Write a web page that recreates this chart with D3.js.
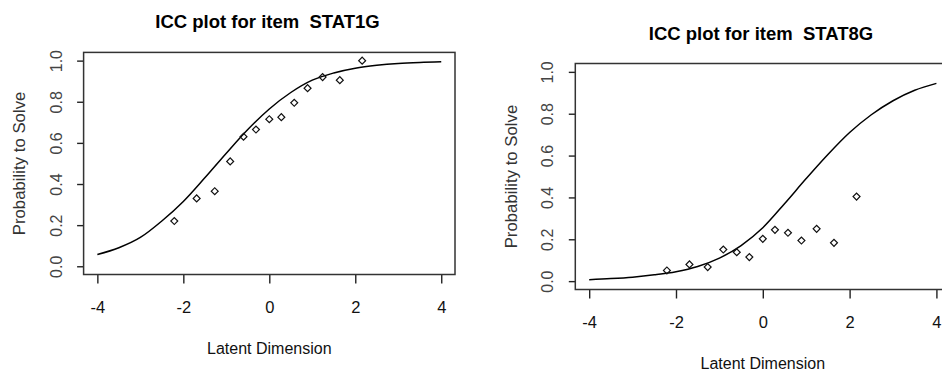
<!DOCTYPE html>
<html>
<head>
<meta charset="utf-8">
<script src="https://cdn.jsdelivr.net/npm/d3@7"></script>
<style>
  body { margin: 0; background: #fff; }
  svg { display: block; font-family: "Liberation Sans", Arial, sans-serif; }
  .title { font-weight: bold; font-size: 18.5px; white-space: pre; }
</style>
</head>
<body>
<svg id="chart" width="942" height="370"></svg>
<script>
// latent trait grid for the model curves
const thetaGrid = [-4, -3.5, -3, -2.5, -2, -1.5, -1, -0.5, 0, 0.5, 1, 1.5, 2, 2.5, 3, 3.5, 4];
// model ICC values
const iccStat1g = [0.057, 0.09, 0.14, 0.22, 0.315, 0.43, 0.55, 0.665, 0.765, 0.845, 0.905, 0.94, 0.963, 0.977, 0.986, 0.991, 0.994];
const iccStat8g = [0.007, 0.012, 0.019, 0.03, 0.045, 0.07, 0.11, 0.17, 0.255, 0.37, 0.49, 0.605, 0.71, 0.795, 0.862, 0.912, 0.945];

// empirical group points
const groupTheta = [-2.21, -1.69, -1.27, -0.91, -0.6, -0.31, 0.0, 0.28, 0.58, 0.89, 1.24, 1.64, 2.16];
const obsStat1g = [0.22, 0.33, 0.365, 0.51, 0.63, 0.665, 0.715, 0.725, 0.795, 0.866, 0.92, 0.905, 1.0];
const obsStat8g = [0.051, 0.08, 0.067, 0.151, 0.138, 0.115, 0.202, 0.245, 0.231, 0.194, 0.25, 0.183, 0.404];

const xTicks = [-4, -2, 0, 2, 4];
const yTicks = [0, 0.2, 0.4, 0.6, 0.8, 1.0];

const svg = d3.select('#chart');

function drawPanel(opts) {
  let { x0, x1, y0, y1, item, curve, obs } = opts;
  let x = d3.scaleLinear().domain([-4.32, 4.32]).range([x0, x1]);
  let y = d3.scaleLinear().domain([-0.04, 1.04]).range([y1, y0]);
  let g = svg.append('g');

  // title
  g.append('text')
    .attr('class', 'title')
    .attr('x', opts.titleX)
    .attr('y', y0 - 24)
    .attr('text-anchor', 'middle')
    .text('ICC plot for item  ' + item);

  // x axis
  let xAxis = g.append('g')
    .attr('transform', `translate(0,${y1})`)
    .call(d3.axisBottom(x).tickValues(xTicks).tickSizeInner(9).tickSizeOuter(0).tickFormat(d3.format('d')));
  xAxis.select('.domain').remove();
  xAxis.selectAll('line').attr('stroke', '#222').attr('stroke-width', 1.4);
  xAxis.selectAll('text')
    .attr('y', 38.5).attr('dy', 0)
    .attr('font-size', 16.5).attr('fill', '#111')
    .attr('font-family', '"Liberation Sans", Arial, sans-serif')
    .text(d => d < 0 ? '-' + Math.abs(d) : d);

  // y axis
  let yAxis = g.append('g')
    .attr('transform', `translate(${x0},0)`)
    .call(d3.axisLeft(y).tickValues(yTicks).tickSizeInner(6.5).tickSizeOuter(0).tickFormat(d3.format('.1f')));
  yAxis.select('.domain').remove();
  yAxis.selectAll('line').attr('stroke', '#222').attr('stroke-width', 1.4);
  yAxis.selectAll('text')
    .attr('transform', 'rotate(-90)')
    .attr('x', 0).attr('y', -22).attr('dy', 0)
    .attr('text-anchor', 'middle')
    .attr('font-size', 16).attr('fill', '#444')
    .attr('font-family', '"Liberation Sans", Arial, sans-serif');

  // axis titles
  g.append('text')
    .attr('x', x(0))
    .attr('y', y1 + 79)
    .attr('text-anchor', 'middle')
    .attr('font-size', 16)
    .attr('fill', '#111')
    .text('Latent Dimension');

  g.append('text')
    .attr('transform', `translate(${x0 - 58.5},${(y0 + y1) / 2}) rotate(-90)`)
    .attr('text-anchor', 'middle')
    .attr('font-size', 16.8)
    .attr('fill', '#333')
    .text('Probability to Solve');

  // model curve
  let line = d3.line()
    .x((d, i) => x(thetaGrid[i]))
    .y(d => y(d))
    .curve(d3.curveMonotoneX);
  g.append('path')
    .datum(curve)
    .attr('fill', 'none')
    .attr('stroke', '#000')
    .attr('stroke-width', 1.5)
    .attr('d', line);

  // empirical points as open diamonds
  let diamond = d3.symbol().type(d3.symbolSquare).size(24);
  g.selectAll('.pt')
    .data(obs)
    .enter().append('path')
    .attr('class', 'pt')
    .attr('d', diamond)
    .attr('transform', (d, i) => `translate(${x(groupTheta[i])},${y(d)}) rotate(45)`)
    .attr('fill', 'none')
    .attr('stroke', '#111')
    .attr('stroke-width', 1.2);

  // plot box
  g.append('rect')
    .attr('x', x0).attr('y', y0)
    .attr('width', x1 - x0).attr('height', y1 - y0)
    .attr('fill', 'none')
    .attr('stroke', '#333')
    .attr('stroke-width', 1.5);
}

drawPanel({ x0: 83.6, x1: 455, y0: 52.4, y1: 274.5, titleX: 267.5, item: 'STAT1G', curve: iccStat1g, obs: obsStat1g });
drawPanel({ x0: 575.3, x1: 950.3, y0: 63.5, y1: 289.5, titleX: 761, item: 'STAT8G', curve: iccStat8g, obs: obsStat8g });
</script>
</body>
</html>
